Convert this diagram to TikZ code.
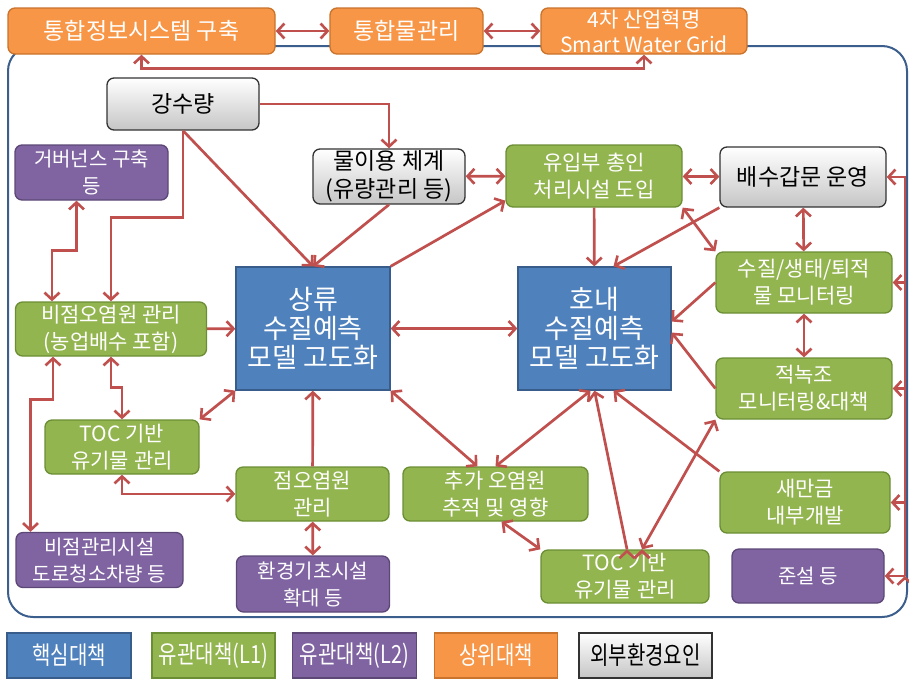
\documentclass[tikz,border=0pt]{standalone}
\usepackage{fontspec}
\usepackage{tikz}
\usetikzlibrary{arrows.meta}
\newfontfamily\kr{Noto Sans CJK KR}
\newfontfamily\krnarrow[FakeStretch=0.8]{Noto Sans CJK KR}
\definecolor{corefill}{HTML}{4F81BD}
\definecolor{coreline}{HTML}{385D8A}
\definecolor{greenfill}{HTML}{93B550}
\definecolor{greenline}{HTML}{6B8E34}
\definecolor{purplefill}{HTML}{8064A2}
\definecolor{purpleline}{HTML}{5C4776}
\definecolor{orangefill}{HTML}{F79646}
\definecolor{orangeline}{HTML}{C9732C}
\definecolor{linkred}{HTML}{C0504D}
\definecolor{framecol}{HTML}{3B5E8C}
\tikzset{%
    >={Straight Barb[length=7pt,width=15pt,line width=2.6pt]},
    sz/.style 2 args={minimum width=#1pt, minimum height=#2pt},
    box/.style={rounded corners=7pt, line width=1.3pt, align=center, inner sep=0pt, text=white},
    corebox/.style={box, sharp corners, fill=corefill, draw=coreline, font=\kr\fontsize{27}{29}\selectfont},
    relA/.style={box, fill=greenfill, draw=greenline, font=\kr\fontsize{21}{27}\selectfont},
    relB/.style={box, fill=purplefill, draw=purpleline, font=\kr\fontsize{20}{27}\selectfont},
    topbox/.style={box, fill=orangefill, draw=orangeline, font=\kr\fontsize{23}{25}\selectfont},
    extbox/.style={box, top color=white, bottom color=gray!45, draw=gray!40!black, text=black, font=\kr\fontsize{23}{28}\selectfont},
    lgd/.style={sharp corners, sz={#1}{45}, font=\krnarrow\fontsize{25}{26}\selectfont},
    link/.style={draw=linkred, line width=2.7pt, ->},
    both/.style={link, <->}
}
\begin{document}
\begin{tikzpicture}[x=1pt, y=-1pt]
        \useasboundingbox (0,0) rectangle (909,678);
        \draw[framecol, line width=2pt, rounded corners=25pt] (8,46) rectangle (907,617);

        \node[topbox, sz={267}{46}] (O1) at (141.5,31) {통합정보시스템 구축};
        \node[topbox, sz={153}{46}] (O2) at (406.5,31) {통합물관리};
        \node[topbox, sz={206}{46}, font=\kr\fontsize{21}{25}\selectfont] (O3) at (644,31) {4차 산업혁명\\Smart Water Grid};

        \node[extbox, sz={152}{52}] (G1) at (183,104) {강수량};
        \node[extbox, sz={152}{55}] (G2) at (389,176.5) {물이용 체계\\(유량관리 등)};
        \node[extbox, sz={166}{60}] (G3) at (803,177) {배수갑문 운영};

        \node[corebox, sz={154}{123}] (C1) at (313,328.5) {상류\\수질예측\\모델 고도화};
        \node[corebox, sz={153}{123}] (C2) at (594.5,328.5) {호내\\수질예측\\모델 고도화};

        \node[relA, sz={176}{62}] (N1) at (594,176) {유입부 총인\\처리시설 도입};
        \node[relA, sz={191}{54}] (L1) at (111,329) {비점오염원 관리\\(농업배수 포함)};
        \node[relA, sz={154}{54}] (L2) at (122,447) {TOC 기반\\유기물 관리};
        \node[relA, sz={153}{54}] (P) at (312.5,494) {점오염원\\관리};
        \node[relA, sz={185}{54}] (A) at (495.5,494) {추가 오염원\\추적 및 영향};
        \node[relA, sz={168}{53}] (T2) at (625,576.5) {TOC 기반\\유기물 관리};
        \node[relA, sz={176}{61}] (R1) at (804,282.5) {수질/생태/퇴적\\물 모니터링};
        \node[relA, sz={176}{61}] (R2) at (804,388.5) {적녹조\\모니터링\&대책};
        \node[relA, sz={170}{61}] (R3) at (805,502.5) {새만금\\내부개발};

        \node[relB, sz={153}{55}] (V1) at (91.5,172.5) {거버넌스 구축\\등};
        \node[relB, sz={167}{55}] (V2) at (99.5,560) {비점관리시설\\도로청소차량 등};
        \node[relB, sz={153}{56}] (V3) at (313,584) {환경기초시설\\확대 등};
        \node[relB, sz={152}{54}] (V4) at (808,576) {준설 등};

        \node[corebox, lgd=124] (lgcore) at (69,655.5) {핵심대책};
        \node[relA, lgd=123] (lgrelA) at (213.5,655.5) {유관대책(L1)};
        \node[relB, lgd=124] (lgrelB) at (354.5,655.5) {유관대책(L2)};
        \node[topbox, lgd=123] (lgtop) at (496,655.5) {상위대책};
        \node[extbox, lgd=133] (lgext) at (645.5,655.5) {외부환경요인};

        \path[both]
            (O1) edge (O2)
            (O2) edge (O3)
            (G2) edge (N1)
            (N1) edge (G3)
            (G3) edge (R1)
            (R1) edge (R2)
            (N1.south east) edge (R1.north west)
            (C1) edge (C2)
            (C1.south west) edge (L2.north east)
            (C1.south east) edge ([xshift=-18pt]A.north)
            (A.north) edge ([xshift=-4pt]C2.south)
            ([xshift=6pt]A.south) edge (T2.north west)
            ([xshift=17pt]T2.north) edge (R2.south west)
            (P) edge (V3);
        \path[link]
            (G1.south) edge (C1.north)
            (G2.south) edge (C1.north)
            (C1.north east) edge ([yshift=7pt]N1.south west)
            (N1) edge (C2)
            (G3.south west) edge ([xshift=19pt]C2.north)
            (R1.west) edge ([yshift=7pt]C2.east)
            (R2.west) edge ([yshift=-4pt]C2.east)
            (R3.north west) edge ([xshift=19pt]C2.south)
            ([xshift=2pt]T2.north) edge (C2.south)
            (L1) edge (C1)
            (P) edge (C1);

        \draw[both] (O1.south) -- ++(0,14) -| (O3.south);
        \draw[link] (G1.east) -| (G2.north);
        \draw[link] (G1.south) -- ++(0,87) -| (L1.north);
        \draw[both] ([xshift=-15pt]V1.south) -- ++(0,50) -| ([xshift=-59pt]L1.north);
        \draw[both] (L1.south) -- ++(0,31) -| (L2.north);
        \draw[both] (L2.south) |- (P.west);
        \draw[both] ([xshift=-58pt]L1.south) -- ++(0,43) -| ([xshift=-69pt]V2.north);

        \coordinate (rbus) at (905,0);
        \draw[link] (V4.east -| rbus) -- (G3.east -| rbus) -- (G3.east);
        \path[link]
            (R1.east -| rbus) edge (R1.east)
            (R2.east -| rbus) edge (R2.east)
            (R3.east -| rbus) edge (R3.east)
            (V4.east -| rbus) edge (V4.east);
\end{tikzpicture}
\end{document}
